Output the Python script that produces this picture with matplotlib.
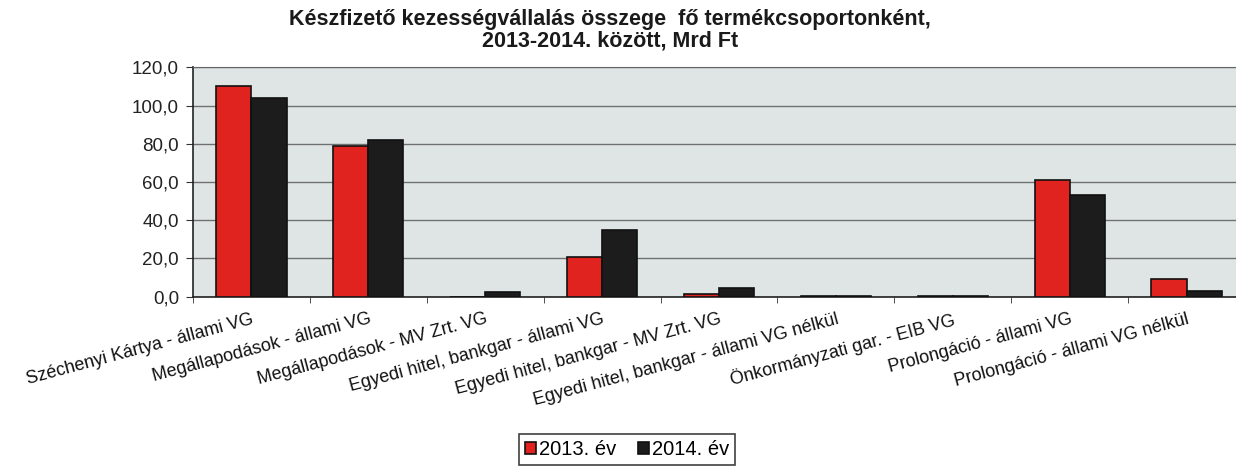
import matplotlib
matplotlib.use("Agg")
import matplotlib.pyplot as plt
import numpy as np

plt.rcParams['font.family'] = ['Liberation Sans', 'DejaVu Sans']

categories = [
    "Széchenyi Kártya - állami VG",
    "Megállapodások - állami VG",
    "Megállapodások - MV Zrt. VG",
    "Egyedi hitel, bankgar - állami VG",
    "Egyedi hitel, bankgar - MV Zrt. VG",
    "Egyedi hitel, bankgar - állami VG nélkül",
    "Önkormányzati gar. - EIB VG",
    "Prolongáció - állami VG",
    "Prolongáció - állami VG nélkül",
]
values_2013 = [110.0, 78.6, 0.0, 21.0, 1.2, 0.5, 0.6, 61.0, 9.0]
values_2014 = [104.0, 81.8, 2.5, 35.0, 4.8, 0.3, 0.6, 53.3, 3.2]
series_labels = ["2013. év", "2014. év"]
yticks = [0, 20, 40, 60, 80, 100, 120]
ytick_labels = ["0,0", "20,0", "40,0", "60,0", "80,0", "100,0", "120,0"]
title = "Készfizető kezességvállalás összege  fő termékcsoportonként,\n2013-2014. között, Mrd Ft"

fig = plt.figure(figsize=(12.36, 4.70), dpi=100)
ax = fig.add_axes([193/1236, 1-296.7/470, (1245-193)/1236, (296.7-67.3)/470])
ax.set_facecolor("#dfe5e5")

x = np.arange(len(categories))
w = 0.3
ax.bar(x - w/2, values_2013, w, color="#e0231f", edgecolor="#111111", linewidth=1.2,
       label=series_labels[0], zorder=3)
ax.bar(x + w/2, values_2014, w, color="#1c1c1c", edgecolor="#111111", linewidth=1.2,
       label=series_labels[1], zorder=3)

ax.set_xlim(-0.5, len(categories) - 0.5)
ax.set_ylim(0, 120)
ax.set_yticks(yticks)
ax.set_yticklabels(ytick_labels, fontsize=13.5, color="#222222")
ax.yaxis.grid(True, color="#707070", linewidth=1.0, zorder=0)
ax.set_axisbelow(True)

ax.set_xticks(x)
ax.set_xticklabels(categories, rotation=15, ha="right", rotation_mode="anchor",
                   fontsize=13, color="#111111")
ax.tick_params(axis="x", which="major", length=0, pad=10)
ax.set_xticks(np.arange(-0.5, len(categories), 1.0), minor=True)
ax.tick_params(axis="x", which="minor", length=4, color="#333333")
ax.tick_params(axis="y", length=5, color="#333333", pad=5)

for s in ["left", "bottom"]:
    ax.spines[s].set_color("#222222")
    ax.spines[s].set_linewidth(1.2)
ax.spines["top"].set_color("#666666")
ax.spines["right"].set_visible(False)

fig.text(610/1236, 1-30/470, title, ha="center", va="center", fontsize=15.5,
         fontweight="bold", linespacing=1.0, color="#1a1a1a")

leg = ax.legend(loc="upper center", bbox_to_anchor=(627/1236, 1-434/470),
                bbox_transform=fig.transFigure, ncol=2, frameon=True, fancybox=False,
                edgecolor="#111111", fontsize=14.5, handlelength=0.55, handleheight=0.55,
                handletextpad=0.15, columnspacing=1.1, borderpad=0.3,
                borderaxespad=0.0)
leg.get_frame().set_linewidth(1.2)

fig.savefig("out.png", dpi=100)
